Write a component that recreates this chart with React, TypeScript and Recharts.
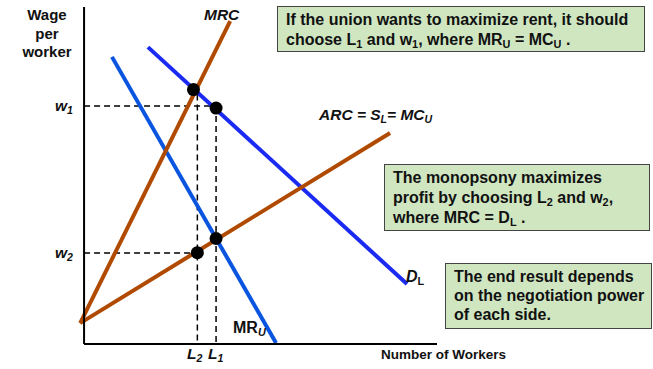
import React from 'react';
import {
  ComposedChart, Line, Scatter, XAxis, YAxis, ReferenceLine,
} from 'recharts';

// curve endpoints (x = workers, y = wage)
const mrcLine = [{ x: -1.1, y: 6.2 }, { x: 41.4, y: 95.8 }];
const arcLine = [{ x: -1.1, y: 6.2 }, { x: 86.7, y: 62.6 }];
const demandLine = [{ x: 18.1, y: 88.1 }, { x: 91.5, y: 17.8 }];
const mruLine = [{ x: 7.9, y: 85.2 }, { x: 54.4, y: 0.3 }];

// equilibrium points
const points = [
  { x: 31.0, y: 75.5 },
  { x: 37.4, y: 70.0 },
  { x: 37.4, y: 31.3 },
  { x: 32.1, y: 27.1 },
];

const W1 = 70.6;
const W2 = 27.0;
const L1 = 37.4;
const L2 = 32.1;

const BROWN = '#b04a00';
const BLUE_D = '#1a2af2';
const BLUE_MR = '#0a55e0';
const BOX_BG = '#cfe6c1';

const font = '"Liberation Sans", Arial, sans-serif';

const boxStyle: React.CSSProperties = {
  position: 'absolute',
  background: BOX_BG,
  border: '1.5px solid #444',
  boxSizing: 'border-box',
  fontFamily: font,
  fontWeight: 'bold',
  fontSize: 16,
  color: '#111',
  whiteSpace: 'nowrap',
};

const label = (left: number, top: number, extra?: React.CSSProperties): React.CSSProperties => ({
  position: 'absolute',
  left,
  top,
  fontFamily: font,
  fontWeight: 'bold',
  fontSize: 15.5,
  lineHeight: '18px',
  color: '#111',
  whiteSpace: 'nowrap',
  ...extra,
});

const sub: React.CSSProperties = { fontSize: '0.68em', verticalAlign: '-0.3em', lineHeight: 0 };

export default function App() {
  return (
    <div style={{ position: 'absolute', left: 0, top: 0, width: 653, height: 369, background: '#fff' }}>
      <ComposedChart
        width={653}
        height={369}
        margin={{ top: 7, right: 216, left: 77, bottom: 25 }}
      >
        <XAxis type="number" dataKey="x" domain={[-2, 100]} hide allowDataOverflow />
        <YAxis type="number" dataKey="y" domain={[0, 100]} hide allowDataOverflow />
        {/* dashed guides */}
        <ReferenceLine segment={[{ x: 0, y: W1 }, { x: L1, y: W1 }]} stroke="#000" strokeWidth={1.5} strokeDasharray="6 4" />
        <ReferenceLine segment={[{ x: 0, y: W2 }, { x: L2, y: W2 }]} stroke="#000" strokeWidth={1.5} strokeDasharray="6 4" />
        <ReferenceLine segment={[{ x: L2, y: 74 }, { x: L2, y: 0 }]} stroke="#000" strokeWidth={1.5} strokeDasharray="6 4" />
        <ReferenceLine segment={[{ x: L1, y: W1 }, { x: L1, y: 0 }]} stroke="#000" strokeWidth={1.5} strokeDasharray="6 4" />
        <Line data={mruLine} dataKey="y" stroke={BLUE_MR} strokeWidth={4} dot={false} isAnimationActive={false} />
        <Line data={demandLine} dataKey="y" stroke={BLUE_D} strokeWidth={4} dot={false} isAnimationActive={false} />
        <Line data={arcLine} dataKey="y" stroke={BROWN} strokeWidth={4} dot={false} isAnimationActive={false} />
        <Line data={mrcLine} dataKey="y" stroke={BROWN} strokeWidth={4} dot={false} isAnimationActive={false} />
        {/* axes */}
        <ReferenceLine segment={[{ x: 0, y: 0 }, { x: 0, y: 100 }]} stroke="#000" strokeWidth={2} ifOverflow="visible" />
        <ReferenceLine segment={[{ x: 0, y: 0 }, { x: 100, y: 0 }]} stroke="#000" strokeWidth={2} ifOverflow="visible" />
        <Scatter data={points} fill="#000" shape={(p: any) => <circle cx={p.cx} cy={p.cy} r={6.5} fill="#000" />} isAnimationActive={false} />
      </ComposedChart>

      <div style={label(17, 6, { textAlign: 'center', width: 60, lineHeight: '18.5px', fontSize: 15 })}>
        Wage<br />per<br />worker
      </div>
      <div style={label(55, 97, { fontStyle: 'italic' })}>w<span style={sub}>1</span></div>
      <div style={label(55, 244, { fontStyle: 'italic' })}>w<span style={sub}>2</span></div>
      <div style={label(204, 6, { fontStyle: 'italic' })}>MRC</div>
      <div style={label(319, 106, { fontStyle: 'italic' })}>
        ARC = S<span style={sub}>L</span>= MC<span style={sub}>U</span>
      </div>
      <div style={label(406, 268, { fontStyle: 'italic', fontSize: 16 })}>
        D<span style={{ ...sub, fontStyle: 'normal' }}>L</span>
      </div>
      <div style={label(233, 319, { fontSize: 16 })}>
        MR<span style={{ ...sub, fontStyle: 'italic' }}>U</span>
      </div>
      <div style={label(187, 345, { fontStyle: 'italic' })}>L<span style={sub}>2</span></div>
      <div style={label(208, 345, { fontStyle: 'italic' })}>L<span style={sub}>1</span></div>
      <div style={label(381, 346, { fontSize: 13.5 })}>Number of Workers</div>

      <div style={{ ...boxStyle, left: 277, top: 6, width: 368, height: 46, padding: '2.5px 0 0 8px', lineHeight: '20px' }}>
        If the union wants to maximize rent, it should<br />
        choose L<span style={sub}>1</span> and w<span style={sub}>1</span>, where MR<span style={sub}>U</span> = MC<span style={sub}>U</span> .
      </div>
      <div style={{ ...boxStyle, left: 384, top: 164, width: 266, height: 67, padding: '2.5px 0 0 8px', lineHeight: '20px' }}>
        The monopsony maximizes<br />
        profit by choosing L<span style={sub}>2</span> and w<span style={sub}>2</span>,<br />
        where MRC = D<span style={sub}>L</span> .
      </div>
      <div style={{ ...boxStyle, left: 445, top: 263, width: 207, height: 66, padding: '3px 0 0 8px', lineHeight: '19px' }}>
        The end result depends<br />
        on the negotiation power<br />
        of each side.
      </div>
    </div>
  );
}
